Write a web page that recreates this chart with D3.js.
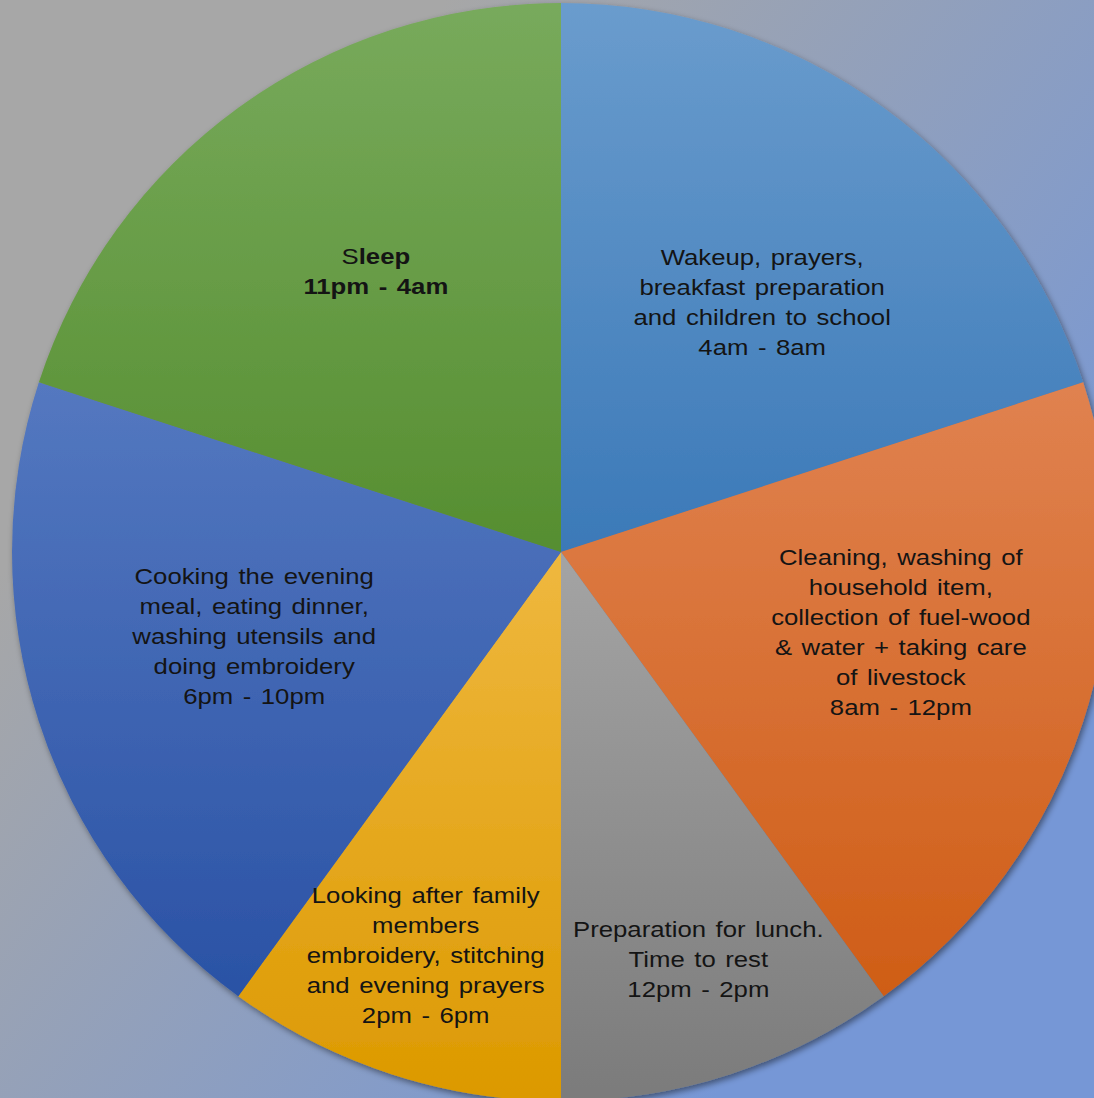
<!DOCTYPE html>
<html>
<head>
<meta charset="utf-8">
<script src="https://cdn.jsdelivr.net/npm/d3@7"></script>
<style>
  body { margin: 0; }
  svg { display: block; }
</style>
</head>
<body>
<div id="chart"></div>
<script>
// slices, clockwise from 12 o'clock
const activities = ['Wakeup', 'Cleaning', 'Lunch', 'Family', 'Cooking', 'Sleep'];
const shares = [20, 20, 10, 10, 20, 20];
const labelLines = [
  ['Wakeup, prayers,', 'breakfast preparation', 'and children to school', '4am - 8am'],
  ['Cleaning, washing of', 'household item,', 'collection of fuel-wood', '& water + taking care', 'of livestock', '8am - 12pm'],
  ['Preparation for lunch.', 'Time to rest', '12pm - 2pm'],
  ['Looking after family', 'members', 'embroidery, stitching', 'and evening prayers', '2pm - 6pm'],
  ['Cooking the evening', 'meal, eating dinner,', 'washing utensils and', 'doing embroidery', '6pm - 10pm'],
  ['Sleep', '11pm - 4am']
];
const topColors = ['#6a9ccd', '#e08250', '#a4a4a4', '#efb83f', '#5478c0', '#78aa5c'];
const bottomColors = ['#3b79b8', '#cf5d16', '#7b7b7b', '#dc9900', '#2a52a5', '#568e30'];

const width = 1094, height = 1098;
const cx = 561, cy = 552, radius = 549;

const svg = d3.select('#chart')
                .append('svg')
                .attr('width', width)
                .attr('height', height);

const defs = svg.append('defs');

let bg = defs.append('linearGradient')
            .attr('id', 'bg')
            .attr('gradientUnits', 'userSpaceOnUse')
            .attr('x1', 290).attr('y1', 200)
            .attr('x2', 990).attr('y2', 745);
bg.append('stop').attr('offset', 0).attr('stop-color', '#a7a7a7');
bg.append('stop').attr('offset', 1).attr('stop-color', '#7697d6');

let shadow = defs.append('filter')
            .attr('id', 'shadow')
            .attr('x', '-10%').attr('y', '-10%')
            .attr('width', '120%').attr('height', '120%');
shadow.append('feDropShadow')
            .attr('dx', 2).attr('dy', 3)
            .attr('stdDeviation', 3)
            .attr('flood-color', '#000')
            .attr('flood-opacity', 0.45);

svg.append('rect')
    .attr('width', width)
    .attr('height', height)
    .attr('fill', 'url(#bg)');

const data = activities.map((a, i) => ({name: a, value: shares[i], lines: labelLines[i], i: i}));

const pie = d3.pie().sort(null).value(d => d.value);
const arc = d3.arc().innerRadius(0).outerRadius(radius);
const arcs = pie(data);

arcs.forEach(d => {
    let g = defs.append('linearGradient')
                .attr('id', 'grad' + d.index)
                .attr('x1', 0).attr('y1', 0)
                .attr('x2', 0).attr('y2', 1);
    g.append('stop').attr('offset', 0).attr('stop-color', topColors[d.index]);
    g.append('stop').attr('offset', 1).attr('stop-color', bottomColors[d.index]);
});

const pieGroup = svg.append('g')
                .attr('transform', 'translate(' + cx + ',' + cy + ')')
                .attr('filter', 'url(#shadow)');

pieGroup.selectAll('path')
    .data(arcs)
    .enter()
    .append('path')
    .attr('d', arc)
    .attr('fill', d => 'url(#grad' + d.index + ')');

// label placement: bigger slices nearer the middle
const labelArcBig = d3.arc().innerRadius(0.58 * radius).outerRadius(0.58 * radius);
const labelArcSmall = d3.arc().innerRadius(0.78 * radius).outerRadius(0.78 * radius);
const nudge = [[14, 8], [37, -18], [5, 0], [-3, -4], [-4, -14], [2, -23]];
const lineH = 30;
const stretch = 1.17; // text in the original is a bit wide

const labels = svg.append('g')
                .attr('transform', 'translate(' + cx + ',' + cy + ')');

arcs.forEach(d => {
    let c = (d.value < 15 ? labelArcSmall : labelArcBig).centroid(d);
    let x = c[0] + nudge[d.index][0];
    let y = c[1] + nudge[d.index][1];
    let n = d.data.lines.length;
    let t = labels.append('g')
                .attr('transform', 'translate(' + x + ',' + y + ') scale(' + stretch + ',1)')
                .append('text')
                .style('text-anchor', 'middle')
                .style('font-family', 'Liberation Sans, Arial, sans-serif')
                .style('font-size', '22px')
                .style('word-spacing', '2px')
                .style('fill', '#141414');
    d.data.lines.forEach((line, j) => {
        let ts = t.append('tspan')
                .attr('x', 0)
                .attr('y', (j - (n - 1) / 2) * lineH)
                .attr('dy', '0.35em');
        if (d.data.name === 'Sleep') {
            if (j === 0) {
                ts.append('tspan').text(line.slice(0, 1));
                ts.append('tspan').style('font-weight', 'bold').text(line.slice(1));
            } else {
                ts.style('font-weight', 'bold').text(line);
            }
        } else {
            ts.text(line);
        }
    });
});
</script>
</body>
</html>
